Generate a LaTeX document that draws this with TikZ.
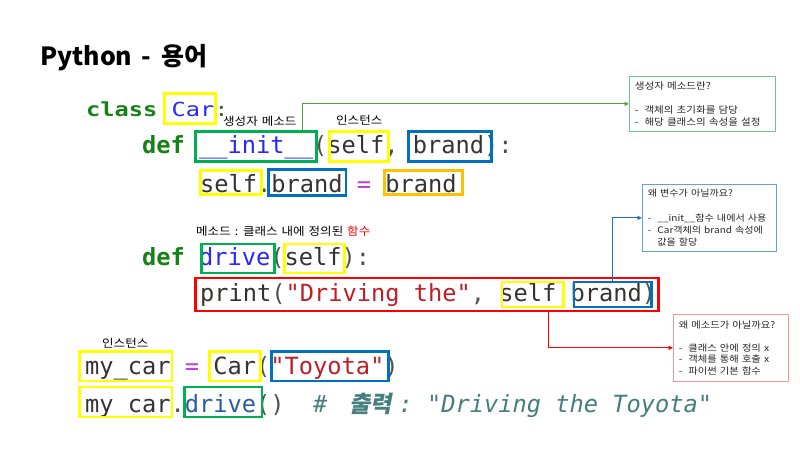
\documentclass[tikz,border=0pt]{standalone}
\usepackage{fontspec}
\usepackage{graphicx}
\setmonofont{DejaVu Sans Mono}
\newfontfamily\krfont{Noto Sans CJK KR}
\newfontfamily\krnote{Noto Sans CJK KR}[FakeStretch=1.12, WordSpace=1.4]
\newfontfamily\krslant{Noto Sans CJK KR}[FakeSlant=0.2]
\usetikzlibrary{arrows.meta, fit, positioning}

\definecolor{kwgreen}{RGB}{20,130,20}
\definecolor{fnblue}{RGB}{40,40,250}
\definecolor{fnsteel}{RGB}{40,90,170}
\definecolor{idgray}{RGB}{55,50,50}
\definecolor{opmag}{RGB}{190,60,230}
\definecolor{strred}{RGB}{190,30,40}
\definecolor{pugray}{RGB}{80,80,80}
\definecolor{cmteal}{RGB}{70,125,125}
\definecolor{hlyellow}{RGB}{255,255,0}
\definecolor{hlgreen}{RGB}{0,176,80}
\definecolor{hlblue}{RGB}{0,112,192}
\definecolor{hlorange}{RGB}{255,192,0}
\definecolor{hlred}{RGB}{255,0,0}
\definecolor{greenline}{RGB}{90,160,60}
\definecolor{greennote}{RGB}{110,200,140}
\definecolor{blueline}{RGB}{30,110,190}
\definecolor{bluenote}{RGB}{100,160,220}
\definecolor{redline}{RGB}{255,0,0}
\definecolor{rednote}{RGB}{245,150,150}

\newcommand\codesize{\fontsize{23.67}{28}\selectfont}
\newcommand\ckw[1]{\textcolor{kwgreen}{\bfseries #1}}
\newcommand\cfn[1]{\textcolor{fnblue}{#1}}
\newcommand\cid[1]{\textcolor{idgray}{#1}}
\newcommand\cop[1]{\textcolor{opmag}{#1}}
\newcommand\cst[1]{\textcolor{strred}{#1}}
\newcommand\cpu[1]{\textcolor{pugray}{#1}}
\newcommand\ccm[1]{{\color{cmteal}\itshape #1}}
\newcommand\cko[1]{\makebox[57pt]{\krslant\bfseries\fontsize{23}{28}\selectfont #1}}

\begin{document}
\begin{tikzpicture}[x=1pt, y=-1pt,
    code/.style={anchor=base west, inner sep=0pt, font=\ttfamily\codesize},
    hlbox/.style={draw=#1, line width=2.6pt, inner sep=0pt},
    tag/.style={anchor=west, inner sep=0pt, font=\krnote\fontsize{11.2}{14}\selectfont},
    note/.style={draw=#1, line width=0.8pt, anchor=north west, align=left,
      inner xsep=5.5pt, inner ysep=3pt, text=black!85,
      font=\krnote\fontsize{9.4}{12.2}\selectfont},
    link/.style={draw=#1, line width=0.9pt, -{Triangle[length=4.5pt, width=4pt]}}]

  \path[use as bounding box, fill=white] (0,0) rectangle (800,450);

  \node[anchor=base west, inner sep=0pt, font=\krfont\bfseries\fontsize{25}{30}\selectfont] (title) at (40,65) {Python\hspace{9pt}-\hspace{10pt}용어};

  \node[code] (l_class) at (86,116) {\scalebox{1}[0.82]{\ckw{class} \cfn{Car}\cpu{:}}};
  \node[code] (l_init) at (142,153) {\ckw{def} \cfn{\_\_init\_\_}\cpu{(}\cid{self}\cpu{, }\cid{brand}\cpu{):}};
  \node[code] (l_assign) at (200,192) {\cid{self}\cpu{.}\cid{brand} \cop{=} \cid{brand}};
  \node[code] (l_drive) at (142,265) {\ckw{def} \cfn{drive}\cpu{(}\cid{self}\cpu{):}};
  \node[code] (l_print) at (200,301) {\cid{print}\cpu{(}\cst{"Driving the"}\cpu{, }\cid{self}\cpu{.}\cid{brand}\cpu{)}};
  \node[code] (l_new) at (85,374) {\cid{my\_car} \cop{=} \cid{Car}\cpu{(}\cst{"Toyota"}\cpu{)}};
  \node[code] (l_call) at (85,412) {\cid{my\_car}\cpu{.}\textcolor{fnsteel}{drive}\cpu{()}~~\ccm{\# \cko{출력}: "Driving the Toyota"}};

  \node[hlbox=hlyellow, fit={(164.5,93.5) (215.5,123.5)}] (b_car_a) {};
  \node[hlbox=hlgreen, fit={(195.5,131.5) (316.5,161.5)}] (b_init) {};
  \node[hlbox=hlyellow, fit={(329.5,131.5) (388.5,161.5)}] (b_self_a) {};
  \node[hlbox=hlblue, fit={(408.5,131.5) (491.5,161.5)}] (b_brand_a) {};
  \node[hlbox=hlyellow, fit={(200.5,170.5) (261.5,194.7)}] (b_self_b) {};
  \node[hlbox=hlblue, fit={(268.6,169.6) (346,195.4)}] (b_brand_b) {};
  \node[hlbox=hlorange, fit={(384.6,170.3) (462.7,194.7)}] (b_brand_c) {};
  \node[hlbox=hlgreen, fit={(201.3,244) (274.4,273)}] (b_drive_a) {};
  \node[hlbox=hlyellow, fit={(284.6,244) (344.7,273)}] (b_self_c) {};
  \node[hlbox=hlred, fit={(195.6,278) (658.7,311)}] (b_print) {};
  \node[hlbox=hlyellow, fit={(502,282) (563.7,307)}] (b_self_d) {};
  \node[hlbox=hlblue, fit={(574,282) (651.4,307)}] (b_brand_d) {};
  \node[hlbox=hlyellow, fit={(79.6,351.3) (172,381)}] (b_mycar_a) {};
  \node[hlbox=hlyellow, fit={(209.6,351.3) (260.4,381)}] (b_car_b) {};
  \node[hlbox=hlblue, fit={(271.7,351.3) (388.3,381)}] (b_toyota) {};
  \node[hlbox=hlyellow, fit={(79.6,387) (172,417)}] (b_mycar_b) {};
  \node[hlbox=hlgreen, fit={(184.6,387) (262,417)}] (b_drive_b) {};

  \node[tag] (t_ctor) at (223,121) {생성자 메소드};
  \node[tag] (t_inst_a) at (336,120) {인스턴스};
  \node[tag] (t_method) at (196,231) {메소드 : 클래스 내에 정의된 \textcolor{red}{함수}};
  \node[tag] (t_inst_b) at (102,343) {인스턴스};

  \node[note=greennote, text width=135pt, minimum height=55pt] (n_ctor) at (629,76)
    {생성자 메소드란?\\[12.2pt]
     -\hspace{6pt}객체의 초기화를 담당\\
     -\hspace{6pt}해당 클래스의 속성을 설정};
  \node[note=bluenote, text width=123pt, minimum height=67pt,
    font=\krnote\fontsize{9}{12.2}\selectfont] (n_var) at (642,184)
    {왜 변수가 아닐까요?\\[12.2pt]
     \mbox{-\hspace{6pt}\_\_init\_\_함수 내에서 사용}\\
     \mbox{-\hspace{6pt}Car객체의 brand 속성에}\\
     \phantom{-}\hspace{6pt}값을 할당};
  \node[note=rednote, text width=104pt, minimum height=67pt,
    font=\krnote\fontsize{9.2}{11.5}\selectfont] (n_func) at (673,314)
    {왜 메소드가 아닐까요?\\[11.5pt]
     -\hspace{6pt}클래스 안에 정의 x\\
     -\hspace{6pt}객체를 통해 호출 x\\
     -\hspace{6pt}파이썬 기본 함수};

  \draw[link=greenline] ([xshift=-15pt]b_init.north east) |- (n_ctor.west);
  \draw[link=blueline] (b_brand_d.north) |- (n_var.west);
  \draw[link=redline] ([xshift=121pt]b_print.south) |- (n_func.west);
\end{tikzpicture}
\end{document}
